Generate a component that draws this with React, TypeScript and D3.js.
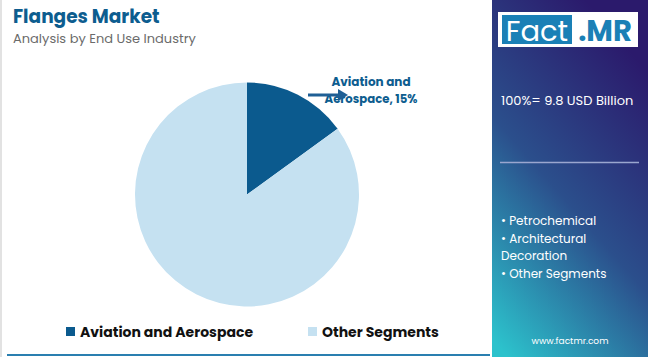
import React from "react";
import * as d3 from "d3";

const categories = ["Aviation and Aerospace", "Other Segments"];
const shares = [15, 85];
const colors = ["#0b5a8e", "#c5e1f1"];
const bullets = ["• Petrochemical", "• Architectural", "Decoration", "• Other Segments"];

export default function App() {
  const W = 650, H = 357;
  const cx = 247, cy = 194.5, r = 112;
  const pie = d3.pie<number>().sort(null).value((d) => d)(shares);
  const arc = d3.arc<d3.PieArcDatum<number>>().innerRadius(0).outerRadius(r);
  const font = "Poppins, Inter, 'Noto Sans', sans-serif";
  return (
    <svg width={W} height={H} style={{ position: "absolute", left: 0, top: 0 }} fontFamily={font}>
      <defs>
        <linearGradient id="panel" x1="0.6" y1="0" x2="0.1" y2="1">
          <stop offset="0" stopColor="#2b1a6c" />
          <stop offset="0.5" stopColor="#2b4f8c" />
          <stop offset="1" stopColor="#2cc2cc" />
        </linearGradient>
        <linearGradient id="hline" x1="0" y1="0" x2="1" y2="0">
          <stop offset="0" stopColor="#1f6fa3" />
          <stop offset="1" stopColor="#4a7fae" />
        </linearGradient>
      </defs>
      <rect x={0} y={0} width={W} height={H} fill="#ffffff" />
      <line x1={1} y1={0} x2={1} y2={H} stroke="#e2e2e2" strokeWidth={2} />
      <text x={13} y={23} fontSize={18.5} fontWeight={700} fill="#0d5d8f">Flanges Market</text>
      <text x={13} y={43} fontSize={13} fill="#6b6b6b">Analysis by End Use Industry</text>
      <line x1={5} y1={68.5} x2={487} y2={68.5} stroke="url(#hline)" strokeWidth={2} />
      <line x1={7} y1={355} x2={490} y2={355} stroke="#2a7fb0" strokeWidth={2} />
      <g transform={`translate(${cx},${cy})`}>
        {pie.map((p, i) => (
          <path key={i} d={arc(p) || ""} fill={colors[i]} />
        ))}
      </g>
      <text x={371} y={86} textAnchor="middle" fontSize={12} fontWeight={700} fill="#0d5d8f">Aviation and</text>
      <text x={371} y={103} textAnchor="middle" fontSize={11.7} fontWeight={700} fill="#0d5d8f">Aerospace, {shares[0]}%</text>
      <line x1={308} y1={95} x2={340} y2={95} stroke="#1f5f95" strokeWidth={3} />
      <path d="M338,89 L348,95 L338,101 Z" fill="#1f5f95" />
      {categories.map((c, i) => {
        const lx = i === 0 ? 66 : 308;
        return (
          <g key={c}>
            <rect x={lx} y={327} width={9} height={9} fill={colors[i]} />
            <text x={lx + 14} y={337} fontSize={14} fontWeight={700} fill="#111">{c}</text>
          </g>
        );
      })}
      <rect x={492} y={0} width={156} height={H} fill="url(#panel)" />
      <rect x={498} y={12} width={140} height={35} fill="#ffffff" />
      <rect x={502} y={15} width={70} height={29} fill="#1a80b6" />
      <text x={537} y={41} textAnchor="middle" fontSize={29} fill="#ffffff" fontWeight={400}>Fact</text>
      <text x={605} y={41} textAnchor="middle" fontSize={29} fill="#1a80b6" fontWeight={700}>.MR</text>
      <text x={501} y={105} fontSize={13} fill="#ffffff">100%= 9.8 USD Billion</text>
      <line x1={500} y1={162.5} x2={639} y2={162.5} stroke="#9aa6cf" strokeWidth={1.5} />
      {bullets.map((b, i) => (
        <text key={b} x={501} y={225 + i * 17.5} fontSize={12} fill="#ffffff">{b}</text>
      ))}
      <text x={570} y={344} textAnchor="middle" fontSize={9} fill="#ffffff">www.factmr.com</text>
    </svg>
  );
}
